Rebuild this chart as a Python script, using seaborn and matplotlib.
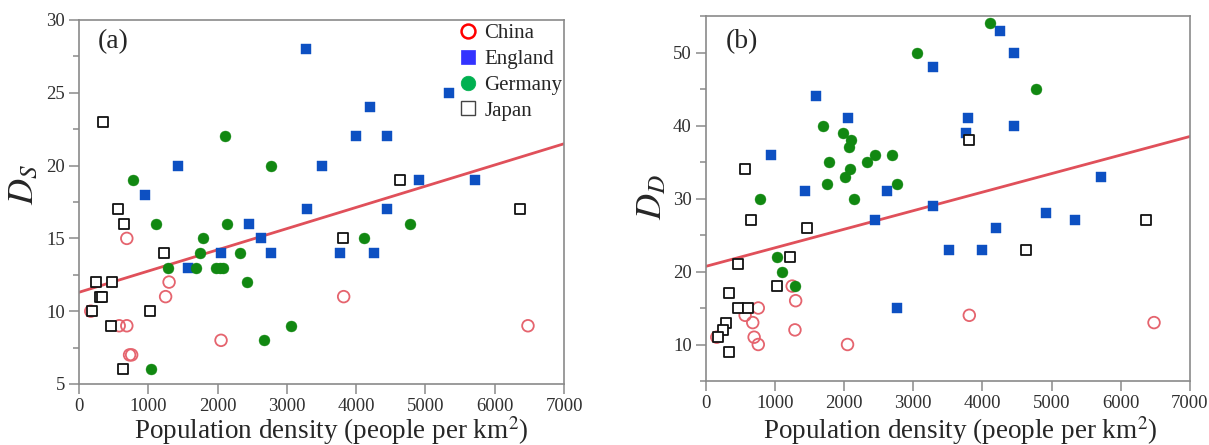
import matplotlib
matplotlib.use("Agg")
import matplotlib.pyplot as plt
from matplotlib.lines import Line2D
from matplotlib.ticker import MultipleLocator
import seaborn as sns

# ---------------- data ----------------
# Panel (a): D_S
cn_a_x = [690, 1300, 1250, 170, 580, 690, 730, 760, 2050, 3820, 6480]
cn_a_y = [15, 12, 11, 10, 9, 9, 7, 7, 8, 11, 9]
en_a_x = [1430, 950, 3280, 5340, 4200, 4000, 4450, 3500, 4910, 5710, 3290, 4450,
          2450, 2630, 2770, 2050, 1570, 3760, 4260]
en_a_y = [20, 18, 28, 25, 24, 22, 22, 20, 19, 19, 17, 17, 16, 15, 14, 14, 13, 14, 14]
de_a_x = [2100, 780, 2770, 1110, 2130, 1790, 1750, 2330, 1290, 1690, 1980, 2030,
          2080, 2430, 1040, 2670, 3060, 4120, 4780]
de_a_y = [22, 19, 20, 16, 16, 15, 14, 14, 13, 13, 13, 13, 13, 12, 6, 8, 9, 15, 16]
jp_a_x = [340, 560, 650, 1220, 250, 470, 300, 330, 190, 1030, 460, 630, 4630, 6360, 3810]
jp_a_y = [23, 17, 16, 14, 12, 12, 11, 11, 10, 10, 9, 6, 19, 17, 15]
fit_x = [0, 7000]
fit_a_y = [11.3, 21.5]

# Panel (b): D_D
cn_b_x = [1250, 1300, 1290, 760, 570, 680, 700, 760, 160, 2050, 3810, 6480]
cn_b_y = [18, 16, 12, 15, 14, 13, 11, 10, 11, 10, 14, 13]
en_b_x = [1590, 2050, 950, 1430, 2620, 2450, 2770, 4260, 4460, 3290, 3790, 3760,
          4450, 3280, 5710, 4920, 5340, 4200, 3510, 4000]
en_b_y = [44, 41, 36, 31, 31, 27, 15, 53, 50, 48, 41, 39, 40, 29, 33, 28, 27, 26, 23, 23]
de_b_x = [1690, 1990, 2100, 2070, 1780, 2450, 2330, 2690, 2090, 2010, 1760, 2770,
          780, 2140, 4110, 3060, 4780, 1030, 1110, 1290]
de_b_y = [40, 39, 38, 37, 35, 36, 35, 36, 34, 33, 32, 32, 30, 30, 54, 50, 45, 22, 20, 18]
jp_b_x = [570, 650, 1460, 1220, 470, 1030, 330, 460, 610, 300, 250, 180, 340, 3810, 4630, 6360]
jp_b_y = [34, 27, 26, 22, 21, 18, 17, 15, 15, 13, 12, 11, 9, 38, 23, 27]
fit_b_y = [20.7, 38.5]

countries = ["China", "England", "Germany", "Japan"]
x_ticks = [0, 1000, 2000, 3000, 4000, 5000, 6000, 7000]

# ---------------- style ----------------
sns.set_style("ticks")
plt.rcParams["font.family"] = ["Liberation Serif", "DejaVu Serif"]
plt.rcParams["mathtext.fontset"] = "stix"

C_CN = "#e5646e"
C_EN = "#0d50c2"
C_DE = "#118811"
C_JP = "#111111"
C_LINE = "#e0505a"
SPINE = "#8a8a8a"
TICKC = "#303030"

fig = plt.figure(figsize=(12.09, 4.45), dpi=100)
ax_a = fig.add_axes([79 / 1209, 1 - 384 / 445, 485 / 1209, 364 / 445])
ax_b = fig.add_axes([705.7 / 1209, 1 - 381 / 445, 484.3 / 1209, 365 / 445])


def draw_panel(ax, cn, en, de, jp, fit_y):
    sns.lineplot(x=fit_x, y=fit_y, ax=ax, color=C_LINE, linewidth=2.0, zorder=1)
    sns.scatterplot(x=cn[0], y=cn[1], ax=ax, marker="o", s=70, facecolor="none",
                    edgecolor=C_CN, linewidth=1.3, zorder=2, legend=False)
    sns.scatterplot(x=en[0], y=en[1], ax=ax, marker="s", s=52, color=C_EN,
                    edgecolor=C_EN, linewidth=0.3, zorder=3, legend=False)
    sns.scatterplot(x=de[0], y=de[1], ax=ax, marker="o", s=62, color=C_DE,
                    edgecolor=C_DE, linewidth=0.3, zorder=4, legend=False)
    sns.scatterplot(x=jp[0], y=jp[1], ax=ax, marker="s", s=55, facecolor="white",
                    edgecolor=C_JP, linewidth=1.3, zorder=5, legend=False)
    ax.set_xlim(0, 7000)
    ax.set_xticks(x_ticks)
    for sp in ax.spines.values():
        sp.set_visible(True)
        sp.set_color(SPINE)
        sp.set_linewidth(1.2)
    ax.tick_params(axis="both", which="major", direction="out", length=7, width=1.1,
                   color=SPINE, labelcolor=TICKC, labelsize=13.5, pad=3)
    ax.tick_params(axis="y", which="minor", direction="out", length=4, width=1.1,
                   color=SPINE)
    ax.tick_params(axis="x", which="minor", length=0)
    ax.set_xlabel(r"Population density (people per km$^2$)", fontsize=19.5)
    ax.xaxis.label.set_va("center")


draw_panel(ax_a, (cn_a_x, cn_a_y), (en_a_x, en_a_y), (de_a_x, de_a_y),
           (jp_a_x, jp_a_y), fit_a_y)
draw_panel(ax_b, (cn_b_x, cn_b_y), (en_b_x, en_b_y), (de_b_x, de_b_y),
           (jp_b_x, jp_b_y), fit_b_y)

ax_a.set_ylim(5, 30)
ax_a.set_yticks([5, 10, 15, 20, 25, 30])
ax_a.yaxis.set_minor_locator(MultipleLocator(2.5))
ax_b.set_ylim(5, 55)
ax_b.set_yticks([10, 20, 30, 40, 50])
ax_b.yaxis.set_minor_locator(MultipleLocator(5))

ax_a.set_ylabel(r"$D_S$", fontsize=26)
ax_b.set_ylabel(r"$D_D$", fontsize=26)
ax_a.yaxis.label.set_va("center")
ax_b.yaxis.label.set_va("center")
ax_a.yaxis.set_label_coords(-0.111, 0.547)
ax_b.yaxis.set_label_coords(-0.109, 0.504)
ax_a.xaxis.set_label_coords(0.52, -0.128)
ax_b.xaxis.set_label_coords(0.526, -0.136)

ax_a.text(0.070, 0.94, "(a)", transform=ax_a.transAxes, fontsize=20,
          ha="center", va="center")
ax_b.text(0.074, 0.93, "(b)", transform=ax_b.transAxes, fontsize=20,
          ha="center", va="center")

handles = [
    Line2D([], [], linestyle="none", marker="o", markersize=10, markerfacecolor="none",
           markeredgecolor="#ff0000", markeredgewidth=1.8),
    Line2D([], [], linestyle="none", marker="s", markersize=9.5, markerfacecolor="#3333ff",
           markeredgecolor="#3333ff", markeredgewidth=0.5),
    Line2D([], [], linestyle="none", marker="o", markersize=10.5, markerfacecolor="#00b050",
           markeredgecolor="#00b050", markeredgewidth=0.5),
    Line2D([], [], linestyle="none", marker="s", markersize=9.5, markerfacecolor="white",
           markeredgecolor="#444444", markeredgewidth=1.0),
]
ax_a.legend(handles, countries, loc="upper left", bbox_to_anchor=(0.78, 0.99),
            frameon=False, fontsize=15, handlelength=1.0, handletextpad=0.3,
            labelspacing=0.3, borderpad=0.0, borderaxespad=0.0)

fig.savefig("out.png", dpi=100)
